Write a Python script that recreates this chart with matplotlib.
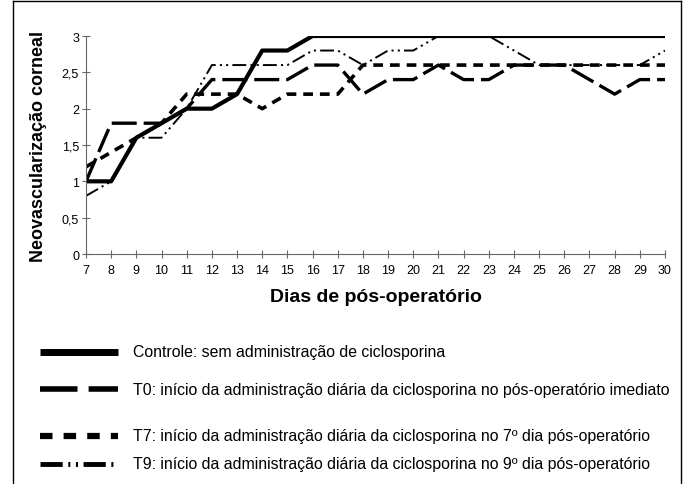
import matplotlib
matplotlib.use("Agg")
import matplotlib.pyplot as plt
from matplotlib.lines import Line2D

plt.rcParams['font.family'] = ['Liberation Sans', 'DejaVu Sans']
plt.rcParams['lines.scale_dashes'] = False

# Data
dias = [7, 8, 9, 10, 11, 12, 13, 14, 15, 16, 17, 18, 19, 20, 21, 22, 23, 24, 25, 26, 27, 28, 29, 30]
controle = [1.0, 1.0, 1.6, 1.8, 2.0, 2.0, 2.2, 2.8, 2.8, 3.0, 3.0, 3.0, 3.0, 3.0, 3.0, 3.0, 3.0, 3.0, 3.0, 3.0, 3.0, 3.0, 3.0, 3.0]
t0 = [1.0, 1.8, 1.8, 1.8, 2.0, 2.4, 2.4, 2.4, 2.4, 2.6, 2.6, 2.2, 2.4, 2.4, 2.6, 2.4, 2.4, 2.6, 2.6, 2.6, 2.4, 2.2, 2.4, 2.4]
t7 = [1.2, 1.4, 1.6, 1.8, 2.2, 2.2, 2.2, 2.0, 2.2, 2.2, 2.2, 2.6, 2.6, 2.6, 2.6, 2.6, 2.6, 2.6, 2.6, 2.6, 2.6, 2.6, 2.6, 2.6]
t9 = [0.8, 1.0, 1.6, 1.6, 2.0, 2.6, 2.6, 2.6, 2.6, 2.8, 2.8, 2.6, 2.8, 2.8, 3.0, 3.0, 3.0, 2.8, 2.6, 2.6, 2.6, 2.6, 2.6, 2.8]

yticks = [0, 0.5, 1, 1.5, 2, 2.5, 3]
ytick_labels = ['0', '0,5', '1', '1,5', '2', '2,5', '3']

legend_labels = [
    'Controle: sem administração de ciclosporina',
    'T0: início da administração diária da ciclosporina no pós-operatório imediato',
    'T7: início da administração diária da ciclosporina no 7º dia pós-operatório',
    'T9: início da administração diária da ciclosporina no 9º dia pós-operatório',
]

W, H = 689, 485
fig = plt.figure(figsize=(W / 100, H / 100), dpi=100)
ax = fig.add_axes([86 / W, 1 - 255 / H, (665 - 86) / W, (255 - 37) / H])

# styles for each series
estilos = [
    dict(color='black', lw=3.0, linestyle='-'),
    dict(color='black', lw=2.4, dashes=(18, 5)),
    dict(color='black', lw=2.6, dashes=(7, 5)),
    dict(color='black', lw=1.4, dashes=(10, 3, 1.5, 3, 1.5, 3)),
]

# draw lowest priority first so the solid line ends up on top
ax.plot(dias, t9, **estilos[3])
ax.plot(dias, t7, **estilos[2])
ax.plot(dias, t0, **estilos[1])
ax.plot(dias, controle, solid_capstyle='butt', **estilos[0])

ax.set_xlim(7, 30)
ax.set_ylim(0, 3)
ax.set_xticks(dias)
ax.set_yticks(yticks)
ax.set_yticklabels(ytick_labels)

for s in ['top', 'right']:
    ax.spines[s].set_visible(False)
for s in ['left', 'bottom']:
    ax.spines[s].set_color('#666666')
    ax.spines[s].set_linewidth(0.8)
    ax.spines[s].set_clip_on(False)

ax.tick_params(axis='both', direction='inout', length=6, width=0.8, color='#666666',
               labelsize=9, labelcolor='black')
ax.tick_params(axis='x', pad=4)
ax.tick_params(axis='y', pad=2)

ax.set_xlabel('Dias de pós-operatório', fontsize=14, fontweight='bold', labelpad=9)
ax.set_ylabel('Neovascularização corneal', fontsize=13, fontweight='bold', labelpad=11)

# legend drawn by hand under the plot
leg_y = [353, 390, 437, 465]
leg_styles = [
    dict(color='black', lw=5.0, linestyle='-', solid_capstyle='butt'),
    dict(color='black', lw=4.0, dashes=(27, 8), dash_capstyle='butt'),
    dict(color='black', lw=4.5, dashes=(9, 8), dash_capstyle='butt'),
    dict(color='black', lw=3.5, dashes=(16, 4, 1.5, 4, 1.5, 4), dash_capstyle='butt'),
]
for y, st, lab in zip(leg_y, leg_styles, legend_labels):
    yf = 1 - y / H
    fig.add_artist(Line2D([40 / W, 118 / W], [yf, yf], transform=fig.transFigure, **st))
    fig.text(133 / W, yf, lab, fontsize=11.4, va='center', ha='left')

# outer frame
fr = dict(color='black', lw=1.0, transform=fig.transFigure)
fig.add_artist(Line2D([13 / W, 13 / W], [0, 1 - 2 / H], **fr))
fig.add_artist(Line2D([681 / W, 681 / W], [0, 1 - 2 / H], **fr))
fig.add_artist(Line2D([13 / W, 681 / W], [1 - 2 / H, 1 - 2 / H], **fr))

fig.savefig('out.png', dpi=100)
